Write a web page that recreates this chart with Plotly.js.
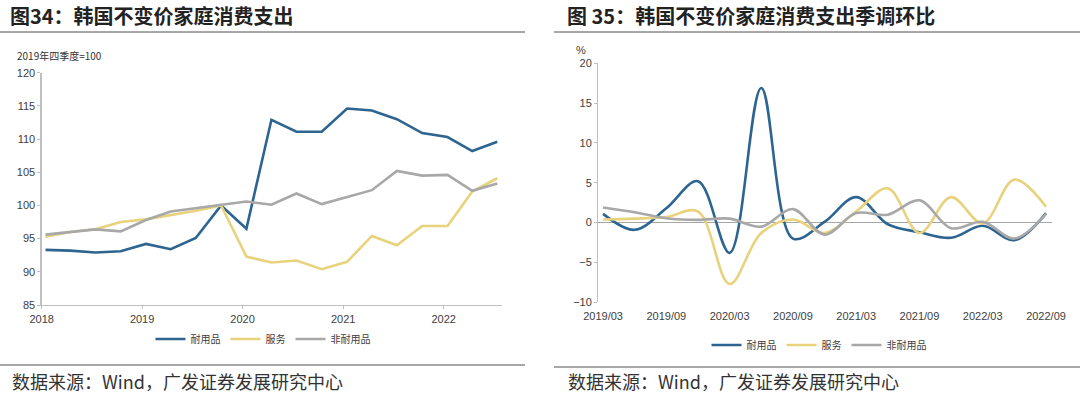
<!DOCTYPE html>
<html>
<head>
<meta charset="utf-8">
<script src="https://cdn.plot.ly/plotly-3.0.1.min.js"></script>
<style>html,body{margin:0;padding:0;background:#fff;}#chart{width:1080px;height:394px;}</style>
</head>
<body>
<div id="chart"></div>
<script>
// ---- Left chart data: 韩国不变价家庭消费支出 (2019年四季度=100) ----
const leftQuarters = ['2018-01-15','2018-04-15','2018-07-15','2018-10-15',
  '2019-01-15','2019-04-15','2019-07-15','2019-10-15',
  '2020-01-15','2020-04-15','2020-07-15','2020-10-15',
  '2021-01-15','2021-04-15','2021-07-15','2021-10-15',
  '2022-01-15','2022-04-15','2022-07-15'];
const durables    = [93.3,93.2,92.9,93.1,94.2,93.4,95.1,100,96.5,112.9,111.1,111.1,114.6,114.3,113.0,110.9,110.3,108.2,109.6];
const services    = [95.3,96.0,96.4,97.5,97.9,98.5,99.2,100,92.3,91.4,91.7,90.4,91.5,95.4,94.0,96.9,96.9,102.1,104.1];
const nondurables = [95.6,96.0,96.4,96.1,97.8,99.1,99.6,100,100.6,100.1,101.8,100.2,101.3,102.3,105.2,104.5,104.6,102.2,103.3];
const leftTickVals = ['2018-01-01','2019-01-01','2020-01-01','2021-01-01','2022-01-01'];
const leftTickText = ['2018','2019','2020','2021','2022'];

// ---- Right chart data: 季调环比 (%) ----
const rightQuarters = ['2019/03','2019/06','2019/09','2019/12','2020/03','2020/06','2020/09','2020/12',
  '2021/03','2021/06','2021/09','2021/12','2022/03','2022/06','2022/09'];
const durablesQoQ    = [1.1,-0.9,1.8,5.2,-3.8,16.9,-2.0,0.1,3.2,-0.2,-1.2,-1.9,-0.4,-2.2,1.2];
const servicesQoQ    = [0.4,0.5,0.7,1.4,-7.7,-1.3,0.4,-1.3,1.4,4.3,-1.3,3.2,-0.1,5.4,2.0];
const nondurablesQoQ = [1.9,1.3,0.55,0.35,0.5,-0.5,1.7,-1.5,1.2,1.0,2.8,-0.7,0.1,-2.0,1.1];
const rightTickLabels = ['2019/03','2019/09','2020/03','2020/09','2021/03','2021/09','2022/03','2022/09'];

const seriesNames = ['耐用品','服务','非耐用品'];
const colors = ['#2e6590','#e8d27c','#a8a8a8'];

const CJK = '"Noto Sans CJK SC", "Liberation Sans", sans-serif';
const LAT = '"Liberation Sans", Arial, sans-serif';
const W = 1080, H = 394;
const px = x => x / W;
const py = y => 1 - y / H;

const traces = [];
[durables, services, nondurables].forEach((s, i) => {
  traces.push({x: leftQuarters, y: s, type: 'scatter', mode: 'lines', name: seriesNames[i],
    line: {color: colors[i], width: 2.6}, xaxis: 'x', yaxis: 'y', legend: 'legend', hoverinfo: 'skip'});
});
[durablesQoQ, servicesQoQ, nondurablesQoQ].forEach((s, i) => {
  traces.push({x: rightQuarters, y: s, type: 'scatter', mode: 'lines', name: seriesNames[i],
    line: {color: colors[i], width: 2.6, shape: 'spline', smoothing: 1}, xaxis: 'x2', yaxis: 'y2', legend: 'legend2', hoverinfo: 'skip'});
});

const tickFont = {family: LAT, size: 11, color: '#404040'};
const axisLine = '#bfbfbf';

const layout = {
  width: W, height: H,
  margin: {l: 0, r: 0, t: 0, b: 0},
  paper_bgcolor: '#fff', plot_bgcolor: '#fff',
  showlegend: true,
  xaxis: {
    domain: [px(41.7), px(501.7)], anchor: 'y', type: 'date',
    range: ['2018-01-01', '2022-07-31'],
    tickmode: 'array', tickvals: leftTickVals, ticktext: leftTickText,
    showline: true, linecolor: axisLine, linewidth: 1.3, showgrid: false, zeroline: false,
    ticks: 'outside', ticklen: 3, tickcolor: axisLine, tickfont: tickFont
  },
  yaxis: {
    domain: [py(305), py(72.7)], anchor: 'x', range: [85, 120], dtick: 5,
    showline: true, linecolor: axisLine, linewidth: 1.3, showgrid: false, zeroline: false,
    ticks: 'outside', ticklen: 3, tickcolor: axisLine, tickfont: tickFont
  },
  xaxis2: {
    domain: [px(598.3), px(1051.7)], anchor: 'y2', type: 'category',
    categoryarray: rightQuarters, range: [-0.15, 14.18],
    tickmode: 'array', tickvals: rightTickLabels, ticktext: rightTickLabels,
    showline: false, showgrid: false, zeroline: false, ticks: '', ticklabelstandoff: 6, tickfont: tickFont
  },
  yaxis2: {
    domain: [py(302.3), py(63.3)], anchor: 'x2', range: [-10, 20], dtick: 5,
    showline: true, linecolor: axisLine, linewidth: 1.3, showgrid: false,
    zeroline: true, zerolinecolor: '#a6a6a6', zerolinewidth: 1.5,
    ticks: 'outside', ticklen: 3, tickcolor: axisLine, tickfont: tickFont
  },
  legend: {
    orientation: 'h', x: px(263), xanchor: 'center', y: py(339), yanchor: 'middle',
    font: {family: CJK, size: 10, color: '#404040'}, bgcolor: 'rgba(0,0,0,0)',
    itemwidth: 30, tracegroupgap: 0
  },
  legend2: {
    orientation: 'h', x: px(819), xanchor: 'center', y: py(345), yanchor: 'middle',
    font: {family: CJK, size: 10, color: '#404040'}, bgcolor: 'rgba(0,0,0,0)',
    itemwidth: 30, tracegroupgap: 0
  },
  shapes: [
    {type: 'line', xref: 'paper', yref: 'paper', x0: 0, x1: px(525), y0: py(32), y1: py(32), line: {color: '#505050', width: 1}},
    {type: 'line', xref: 'paper', yref: 'paper', x0: px(554), x1: 1, y0: py(32), y1: py(32), line: {color: '#505050', width: 1}},
    {type: 'line', xref: 'paper', yref: 'paper', x0: 0, x1: px(525), y0: py(365), y1: py(365), line: {color: '#505050', width: 1}},
    {type: 'line', xref: 'paper', yref: 'paper', x0: px(554), x1: 1, y0: py(367), y1: py(367), line: {color: '#505050', width: 1}}
  ],
  annotations: [
    {xref: 'paper', yref: 'paper', x: px(8), y: py(15.5), xanchor: 'left', yanchor: 'middle', showarrow: false,
     text: '图<b>34</b>：韩国不变价家庭消费支出', font: {family: CJK, size: 20, color: '#222', weight: 'bold'}},
    {xref: 'paper', yref: 'paper', x: px(565), y: py(15.5), xanchor: 'left', yanchor: 'middle', showarrow: false,
     text: '图 <b>35</b>：韩国不变价家庭消费支出季调环比', font: {family: CJK, size: 20, color: '#222', weight: 'bold'}},
    {xref: 'paper', yref: 'paper', x: px(15), y: py(55.8), xanchor: 'left', yanchor: 'middle', showarrow: false,
     text: '2019年四季度=100', font: {family: CJK, size: 10, color: '#333'}},
    {xref: 'paper', yref: 'paper', x: px(580.6), y: py(50), xanchor: 'center', yanchor: 'middle', showarrow: false,
     text: '%', font: {family: LAT, size: 11, color: '#404040'}},
    {xref: 'paper', yref: 'paper', x: px(10), y: py(381), xanchor: 'left', yanchor: 'middle', showarrow: false,
     text: '数据来源：Wind，广发证券发展研究中心', font: {family: CJK, size: 18, color: '#333'}},
    {xref: 'paper', yref: 'paper', x: px(566), y: py(381), xanchor: 'left', yanchor: 'middle', showarrow: false,
     text: '数据来源：Wind，广发证券发展研究中心', font: {family: CJK, size: 18, color: '#333'}}
  ]
};

Plotly.newPlot('chart', traces, layout, {staticPlot: true, displayModeBar: false});
</script>
</body>
</html>
